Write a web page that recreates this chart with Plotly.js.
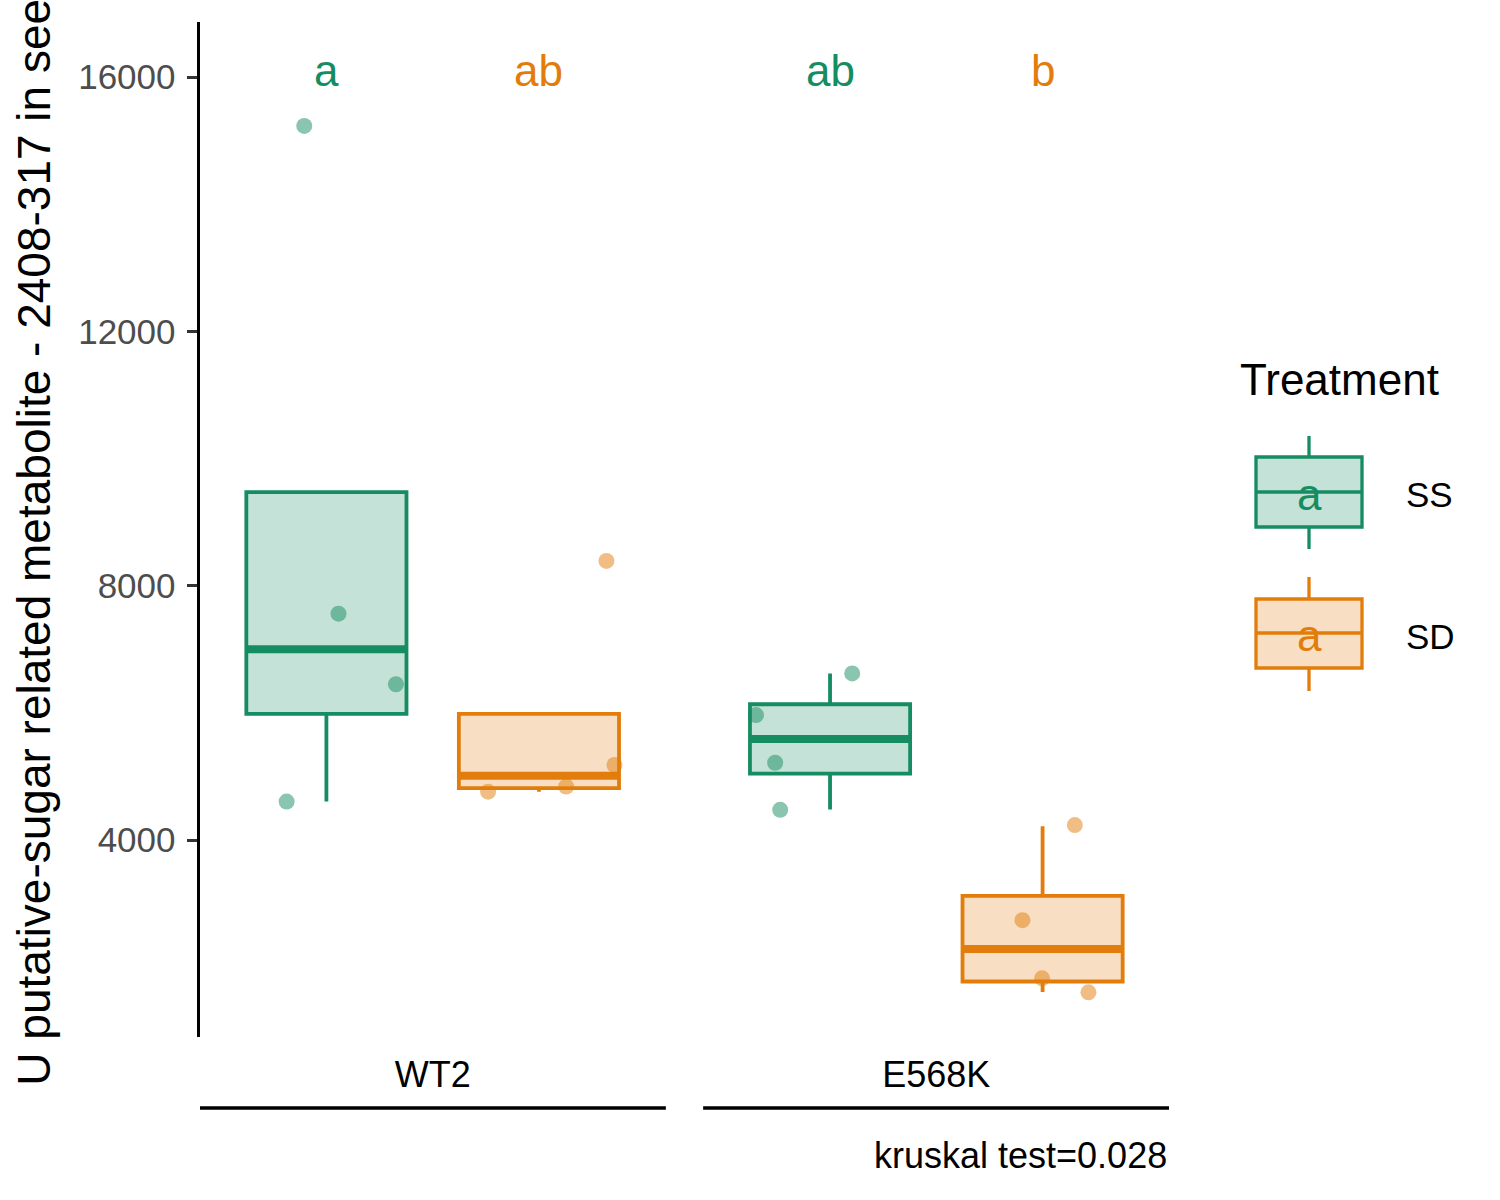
<!DOCTYPE html>
<html>
<head>
<meta charset="utf-8">
<script src="https://cdn.plot.ly/plotly-3.0.1.min.js"></script>
<style>
  body { margin: 0; background: #ffffff; }
  #plot { width: 1500px; height: 1200px; }
</style>
</head>
<body>
<div id="plot"></div>
<script>
// ---- data ----
var genotypes = ['WT2', 'E568K'];
var treatments = ['SS', 'SD'];
var letters_ss = ['a', 'ab'];
var letters_sd = ['ab', 'b'];
var letter_y = 16100;

// box statistics per genotype (WT2, E568K)
var ss_q1 = [5985, 5045];
var ss_median = [7000, 5590];
var ss_q3 = [9470, 6135];
var ss_lower = [4605, 4480];
var ss_upper = [9470, 6620];

var sd_q1 = [4815, 1775];
var sd_median = [5010, 2285];
var sd_q3 = [5985, 3120];
var sd_lower = [4760, 1610];
var sd_upper = [5985, 4215];

// jittered raw points: genotype index, value, horizontal jitter
var ss_group = [0, 0, 0, 0, 1, 1, 1, 1];
var ss_values = [15230, 7560, 6450, 4605, 6620, 5965, 5215, 4475];
var ss_jitter = [-0.044, 0.024, 0.138, -0.079, 0.044, -0.147, -0.109, -0.099];

var sd_group = [0, 0, 0, 0, 1, 1, 1, 1];
var sd_values = [8390, 5180, 4840, 4760, 4235, 2740, 1825, 1605];
var sd_jitter = [0.134, 0.150, 0.054, -0.101, 0.064, -0.040, -0.001, 0.091];

var kruskal_p = '0.028';

// ---- styling ----
var green = '#158C61';
var orange = '#E27D0B';
var green_fill = 'rgba(21,140,97,0.25)';
var orange_fill = 'rgba(226,125,11,0.25)';
var green_pt = 'rgba(21,140,97,0.5)';
var orange_pt = 'rgba(226,125,11,0.5)';
var font_family = 'Liberation Sans, Arial, sans-serif';

var dodge = 0.211;
var box_width = 0.318;
var group_pos = genotypes.map(function(g, i) { return i + 1; });

function box_trace(offset, q1, med, q3, lo, hi, col, fill) {
   return {
      type: 'box',
      x: group_pos.map(function(p) { return p + offset; }),
      q1: q1, median: med, q3: q3,
      lowerfence: lo, upperfence: hi,
      width: box_width,
      whiskerwidth: 0,
      boxpoints: false,
      fillcolor: fill,
      line: {color: col, width: 3.8},
      hoverinfo: 'y',
      showlegend: false
   };
}

function median_trace(offset, med, col) {
   var xs = [], ys = [];
   med.forEach(function(m, i) {
      var c = group_pos[i] + offset;
      xs.push(c - box_width / 2, c + box_width / 2, null);
      ys.push(m, m, null);
   });
   return {
      type: 'scatter', mode: 'lines', x: xs, y: ys,
      line: {color: col, width: 8},
      hoverinfo: 'skip', showlegend: false
   };
}

function point_trace(offset, grp, vals, jit, col) {
   return {
      type: 'scatter', mode: 'markers',
      x: grp.map(function(g, i) { return group_pos[g] + offset + jit[i]; }),
      y: vals,
      marker: {color: col, size: 16, line: {width: 0}},
      hoverinfo: 'y', showlegend: false
   };
}

var traces = [
   box_trace(-dodge, ss_q1, ss_median, ss_q3, ss_lower, ss_upper, green, green_fill),
   box_trace(dodge, sd_q1, sd_median, sd_q3, sd_lower, sd_upper, orange, orange_fill),
   median_trace(-dodge, ss_median, green),
   median_trace(dodge, sd_median, orange),
   point_trace(-dodge, ss_group, ss_values, ss_jitter, green_pt),
   point_trace(dodge, sd_group, sd_values, sd_jitter, orange_pt)
];

// ---- annotations ----
var annotations = [];
group_pos.forEach(function(p, i) {
   annotations.push({x: p - dodge, y: letter_y, xref: 'x', yref: 'y', text: letters_ss[i],
      showarrow: false, xanchor: 'center', yanchor: 'middle',
      font: {family: font_family, size: 44, color: green}});
   annotations.push({x: p + dodge, y: letter_y, xref: 'x', yref: 'y', text: letters_sd[i],
      showarrow: false, xanchor: 'center', yanchor: 'middle',
      font: {family: font_family, size: 44, color: orange}});
});

// pixel -> paper helpers for the hand-drawn legend (plot area 200..1169 x 22..1037)
function px(x) { return (x - 200) / 969; }
function py(y) { return (1037 - y) / 1015; }

annotations.push({x: 1, y: py(1155), xref: 'paper', yref: 'paper',
   text: 'kruskal test=' + kruskal_p, showarrow: false, xanchor: 'right', yanchor: 'middle',
   font: {family: font_family, size: 36, color: '#000000'}});

annotations.push({x: px(1238), y: py(379), xref: 'paper', yref: 'paper',
   text: 'Treatment', showarrow: false, xanchor: 'left', yanchor: 'middle',
   font: {family: font_family, size: 44, color: '#000000'}});

var shapes = [];
// bracket lines under the genotype labels
group_pos.forEach(function(p) {
   shapes.push({type: 'line', xref: 'x', yref: 'paper', x0: p - 0.463, x1: p + 0.463,
      y0: py(1108), y1: py(1108), line: {color: '#000000', width: 3.5}});
});

// legend keys
var keys = [
   {label: treatments[0], col: green, fill: green_fill, top: 457, bot: 527, med: 492, wt: 436, wb: 549},
   {label: treatments[1], col: orange, fill: orange_fill, top: 599, bot: 668, med: 633, wt: 577, wb: 691}
];
keys.forEach(function(k) {
   shapes.push({type: 'line', xref: 'paper', yref: 'paper', x0: px(1309), x1: px(1309),
      y0: py(k.wt), y1: py(k.top), line: {color: k.col, width: 3.3}});
   shapes.push({type: 'line', xref: 'paper', yref: 'paper', x0: px(1309), x1: px(1309),
      y0: py(k.bot), y1: py(k.wb), line: {color: k.col, width: 3.3}});
   shapes.push({type: 'rect', xref: 'paper', yref: 'paper', x0: px(1256), x1: px(1362),
      y0: py(k.bot), y1: py(k.top), fillcolor: k.fill, line: {color: k.col, width: 3.3}});
   shapes.push({type: 'line', xref: 'paper', yref: 'paper', x0: px(1256), x1: px(1362),
      y0: py(k.med), y1: py(k.med), line: {color: k.col, width: 3.3}});
   annotations.push({x: px(1309), y: py(k.med + 2), xref: 'paper', yref: 'paper', text: 'a',
      showarrow: false, xanchor: 'center', yanchor: 'middle',
      font: {family: font_family, size: 44, color: k.col}});
   annotations.push({x: px(1404), y: py(k.med + 3), xref: 'paper', yref: 'paper', text: k.label,
      showarrow: false, xanchor: 'left', yanchor: 'middle',
      font: {family: font_family, size: 35, color: '#000000'}});
});

var layout = {
   width: 1500,
   height: 1200,
   margin: {l: 200, r: 331, t: 22, b: 163},
   paper_bgcolor: '#ffffff',
   plot_bgcolor: '#ffffff',
   font: {family: font_family},
   showlegend: false,
   xaxis: {
      range: [0.538, 2.462],
      tickvals: group_pos,
      ticktext: genotypes,
      ticks: '',
      showline: false,
      showgrid: false,
      zeroline: false,
      ticklabelstandoff: 13,
      tickfont: {family: font_family, size: 36, color: '#000000'}
   },
   yaxis: {
      range: [902, 16865],
      tickvals: [4000, 8000, 12000, 16000],
      tickformat: 'd',
      ticks: 'outside',
      ticklen: 10,
      tickwidth: 3,
      tickcolor: '#333333',
      showline: true,
      linecolor: '#000000',
      linewidth: 3.5,
      showgrid: false,
      zeroline: false,
      ticklabelstandoff: 4,
      tickfont: {family: font_family, size: 35, color: '#4d4d4d'},
      title: {
         text: 'U putative-sugar related metabolite - 2408-317 in seed',
         standoff: 14,
         font: {family: font_family, size: 46, color: '#000000'}
      }
   },
   shapes: shapes,
   annotations: annotations
};

Plotly.newPlot('plot', traces, layout, {displayModeBar: false, staticPlot: true});
</script>
</body>
</html>
